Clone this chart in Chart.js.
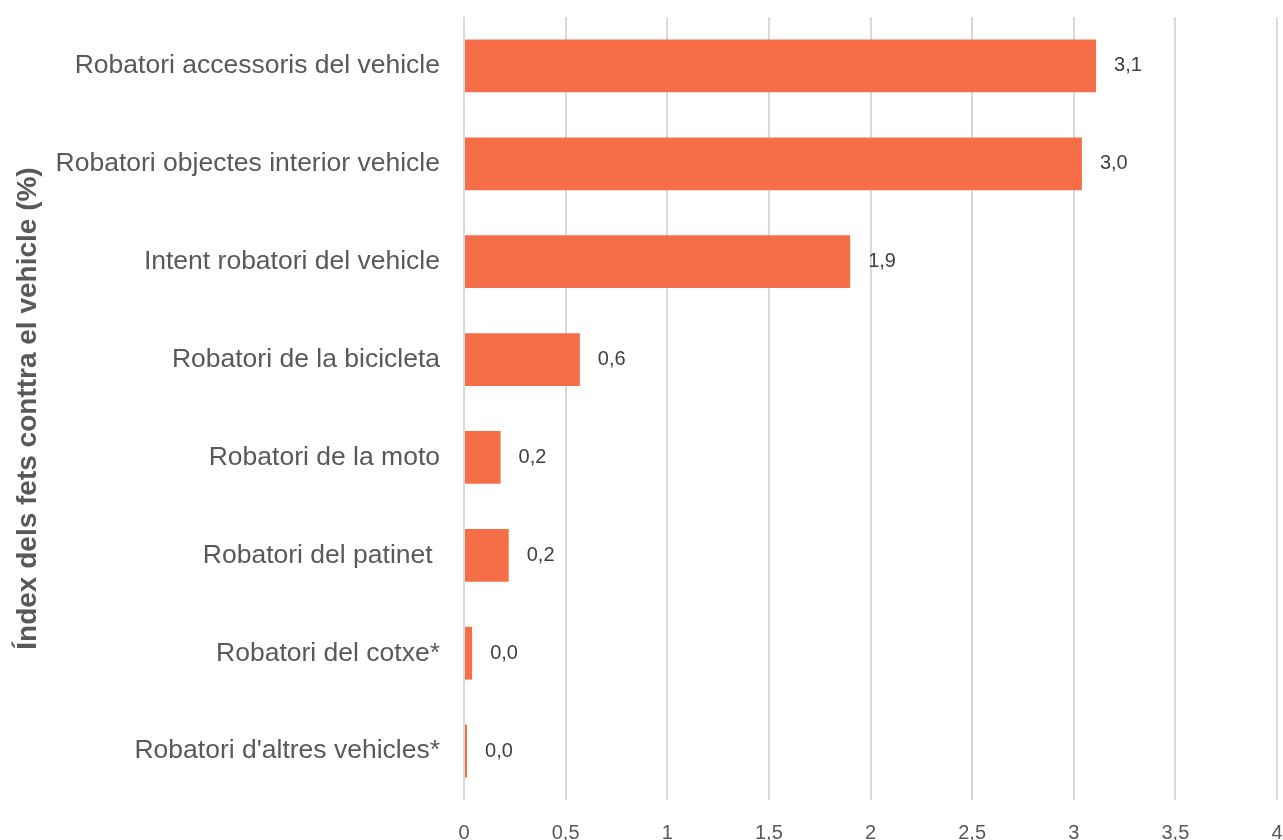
<!DOCTYPE html>
<html>
<head>
<meta charset="utf-8">
<script src="https://cdn.jsdelivr.net/npm/chart.js@4"></script>
<style>
  html, body { margin: 0; padding: 0; background: #fff; overflow: hidden; }
  #wrap { width: 1283px; height: 860px; position: relative; }
</style>
</head>
<body>
<div id="wrap"><canvas id="myChart"></canvas></div>
<script>
// Categories (top to bottom)
const categories = [
    'Robatori accessoris del vehicle',
    'Robatori objectes interior vehicle',
    'Intent robatori del vehicle',
    'Robatori de la bicicleta',
    'Robatori de la moto',
    'Robatori del patinet ',
    'Robatori del cotxe*',
    "Robatori d'altres vehicles*"
];
// Index values (%)
const values = [3.11, 3.04, 1.90, 0.57, 0.18, 0.22, 0.04, 0.015];
const xTicks = [0, 0.5, 1, 1.5, 2, 2.5, 3, 3.5, 4];
const axisTitle = 'Índex dels fets conttra el vehicle (%)';

const fontFamily = "'Liberation Sans', Arial, sans-serif";

function fmt(v, digits) {
    return v.toFixed(digits).replace('.', ',');
}

// Etiquettes de valeur à droite des barres
const barLabels = {
    id: 'barLabels',
    afterDatasetsDraw(chart) {
        const ctx = chart.ctx;
        const meta = chart.getDatasetMeta(0);
        ctx.save();
        ctx.font = '20px ' + fontFamily;
        ctx.fillStyle = '#404040';
        ctx.textAlign = 'left';
        ctx.textBaseline = 'middle';
        meta.data.forEach((bar, i) => {
            ctx.fillText(fmt(values[i], 1), bar.x + 18, bar.y);
        });
        ctx.restore();
    }
};

const ctx = document.getElementById('myChart').getContext('2d');
const myChart = new Chart(ctx, {
    type: 'bar',
    data: {
        labels: categories,
        datasets: [{
            data: values,
            backgroundColor: '#F56E47',
            borderWidth: 0,
            barPercentage: 0.9,
            categoryPercentage: 0.6
        }]
    },
    options: {
        indexAxis: 'y',
        responsive: true,
        maintainAspectRatio: false,
        animation: false,
        layout: { padding: { top: 17, right: 6, left: 0, bottom: 0 } },
        plugins: {
            legend: { display: false },
            tooltip: { enabled: false }
        },
        scales: {
            x: {
                min: 0,
                max: 4,
                afterBuildTicks: (scale) => {
                    scale.ticks = xTicks.map(v => ({ value: v }));
                },
                afterFit: (scale) => {
                    scale.height = 60;
                    scale.paddingLeft = 0;
                    scale.paddingRight = 0;
                },
                grid: { color: '#d9d9d9', lineWidth: 2, drawTicks: false },
                border: { display: false },
                ticks: {
                    padding: 21,
                    color: '#595959',
                    font: { family: fontFamily, size: 20 },
                    maxRotation: 0,
                    callback: (v) => String(v).replace('.', ',')
                }
            },
            y: {
                afterFit: (scale) => {
                    scale.width = 464;
                    scale.paddingTop = 0;
                    scale.paddingBottom = 0;
                },
                grid: { display: false, drawTicks: false },
                border: { display: false },
                ticks: {
                    padding: 24,
                    color: '#595959',
                    font: { family: fontFamily, size: 26.5 }
                },
                title: {
                    display: true,
                    text: axisTitle,
                    color: '#595959',
                    font: { family: fontFamily, size: 28, weight: 'bold' },
                    padding: { top: 11, bottom: 0 }
                }
            }
        }
    },
    plugins: [barLabels]
});
</script>
</body>
</html>
